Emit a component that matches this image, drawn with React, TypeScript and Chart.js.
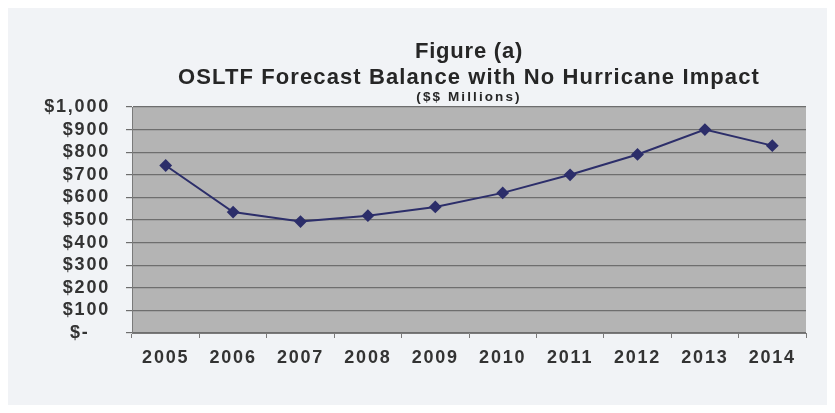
import React, { useEffect, useRef } from "react";
import { Chart, registerables } from "chart.js";

Chart.register(...registerables);

const years = ["2005", "2006", "2007", "2008", "2009", "2010", "2011", "2012", "2013", "2014"];
const balance = [741, 535, 493, 519, 558, 620, 700, 790, 900, 829];
const titleLines = ["Figure (a)", "OSLTF Forecast Balance with No Hurricane Impact", "($$ Millions)"];

const FONT = "'Liberation Sans', Arial, sans-serif";

const spacingPlugin = {
  id: "spacing",
  beforeLayout(chart: any) {
    chart.ctx.letterSpacing = "1.8px";
  },
  beforeDraw(chart: any) {
    const { ctx, chartArea } = chart;
    ctx.save();
    ctx.fillStyle = "#f1f3f6";
    ctx.fillRect(0, 0, chart.width, chart.height);
    ctx.fillStyle = "#b4b4b4";
    ctx.fillRect(chartArea.left, chartArea.top, chartArea.right - chartArea.left, chartArea.bottom - chartArea.top);
    ctx.restore();
    ctx.letterSpacing = "1.8px";
  },
  afterDraw(chart: any) {
    const { ctx, chartArea } = chart;
    const cx = (chartArea.left + chartArea.right) / 2;
    ctx.save();
    ctx.fillStyle = "#262626";
    ctx.textAlign = "center";
    ctx.textBaseline = "alphabetic";
    const specs = [
      { size: 22, sp: "0.8px", y: 50 },
      { size: 22, sp: "1.1px", y: 76 },
      { size: 13.5, sp: "2.1px", y: 93 },
    ];
    titleLines.forEach((t, i) => {
      const s = specs[i];
      ctx.font = `bold ${s.size}px ${FONT}`;
      ctx.letterSpacing = s.sp;
      ctx.fillText(t, cx, s.y);
    });
    ctx.restore();
  },
};

export default function App() {
  const ref = useRef<HTMLCanvasElement | null>(null);
  useEffect(() => {
    if (!ref.current) return;
    const chart = new Chart(ref.current, {
      type: "line",
      data: {
        labels: years,
        datasets: [
          {
            data: balance,
            borderColor: "#2c2e6a",
            backgroundColor: "#2c2e6a",
            borderWidth: 2,
            pointStyle: "rectRot",
            pointRadius: 5,
            pointHoverRadius: 5,
            tension: 0,
          },
        ],
      },
      options: {
        animation: false,
        responsive: true,
        maintainAspectRatio: false,
        layout: { padding: { top: 99, right: 21, left: 0, bottom: 0 } },
        plugins: { legend: { display: false }, title: { display: false }, tooltip: { enabled: false } },
        scales: {
          x: {
            offset: true,
            grid: { offset: true, drawOnChartArea: false, drawTicks: true, tickLength: 5, color: "#7a7a7a" },
            border: { display: true, color: "#7a7a7a", width: 1 },
            ticks: { color: "#333", font: { family: FONT, size: 18, weight: "bold" }, padding: 9, maxRotation: 0, autoSkip: false },
            afterFit(scale: any) {
              scale.height = 72;
            },
          },
          y: {
            min: 0,
            max: 1000,
            grid: { color: "#6e6e6e", lineWidth: 1.2, tickLength: 6, drawTicks: true },
            border: { display: true, color: "#7a7a7a", width: 1 },
            ticks: {
              stepSize: 100,
              autoSkip: false,
              color: "#333",
              font: { family: FONT, size: 18, weight: "bold" },
              padding: 16,
              callback: (v: any) => (Number(v) === 0 ? "$-   " : "$" + Number(v).toLocaleString("en-US")),
            },
            afterFit(scale: any) {
              scale.width = 124;
            },
          },
        },
      },
      plugins: [spacingPlugin],
    });
    return () => chart.destroy();
  }, []);
  return (
    <div style={{ width: 819, height: 397, position: "relative" }}>
      <canvas ref={ref} />
    </div>
  );
}
